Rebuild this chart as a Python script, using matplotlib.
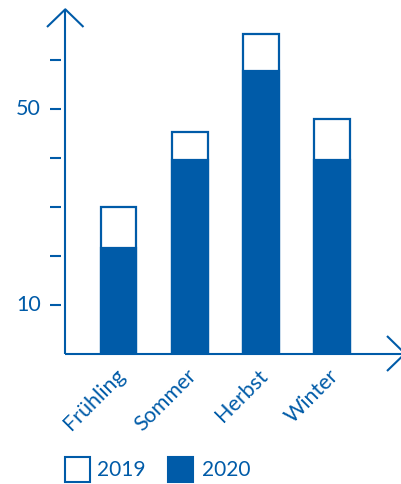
import matplotlib
matplotlib.use('Agg')
import matplotlib.pyplot as plt
from matplotlib.patches import Rectangle

seasons = ['Frühling', 'Sommer', 'Herbst', 'Winter']
v2019 = [30, 45.2, 65.3, 47.8]
v2020 = [21.5, 39.5, 57.7, 39.5]
yticks = [10, 20, 30, 40, 50, 60]
ylabels = {10: '10', 50: '50'}
years = ['2019', '2020']

blue = '#005ba8'
plt.rcParams['font.family'] = ['Lato', 'DejaVu Sans']

W, H = 401, 484
fig = plt.figure(figsize=(W / 100, H / 100), dpi=100)
# axes: left edge = y axis, bottom = zero line
x0, y0, ytop = 65.3, 353.6, 9.3
ax = fig.add_axes([x0 / W, (H - y0) / H, (W - x0) / W, (y0 - ytop) / H])
ymax = (y0 - ytop) / 4.9
ax.set_ylim(0, ymax)
ax.set_xlim(-0.75, 3.965)
ax.axis('off')

xs = range(len(seasons))
ax.bar(xs, v2019, width=0.5, color='white', edgecolor=blue, linewidth=1.6, zorder=2)
ax.bar(xs, v2020, width=0.5, color=blue, edgecolor=blue, linewidth=1.6, zorder=3)

# axes lines + arrows (pixel coords)
def px(x, y):
    return (x / W, (H - y) / H)

lw = 1.5
def line(pts):
    xx = [px(*p)[0] for p in pts]
    yy = [px(*p)[1] for p in pts]
    fig.add_artist(plt.Line2D(xx, yy, color=blue, lw=lw, solid_capstyle='butt'))

line([(x0, y0), (x0, ytop)])
line([(47, 27), (x0, ytop), (83.5, 27)])
line([(x0, y0), (405, y0)])
line([(387, 336), (405, y0), (387, 371)])

# y ticks
for t in yticks:
    yp = y0 - t * 4.9
    line([(50, yp), (61, yp)])
    if t in ylabels:
        fig.text(*px(41, yp), ylabels[t], color=blue, fontsize=15.5,
                 ha='right', va='center')

# category labels
for i, s in enumerate(seasons):
    ax.text(i - 0.05, -2.4, s, color=blue, fontsize=15.5, rotation=45,
            rotation_mode='anchor', ha='right', va='top')

# legend
for (lx, tx), yr, fc in zip([(65, 98), (168, 203)], years, ['white', blue]):
    fig.add_artist(Rectangle(px(lx, 482), 25 / W, 25 / H, transform=fig.transFigure,
                             facecolor=fc, edgecolor=blue, lw=1.5))
    fig.text(*px(tx - 1, 469.5), yr, color=blue, fontsize=15, ha='left', va='center')

fig.savefig('out.png', dpi=100)
